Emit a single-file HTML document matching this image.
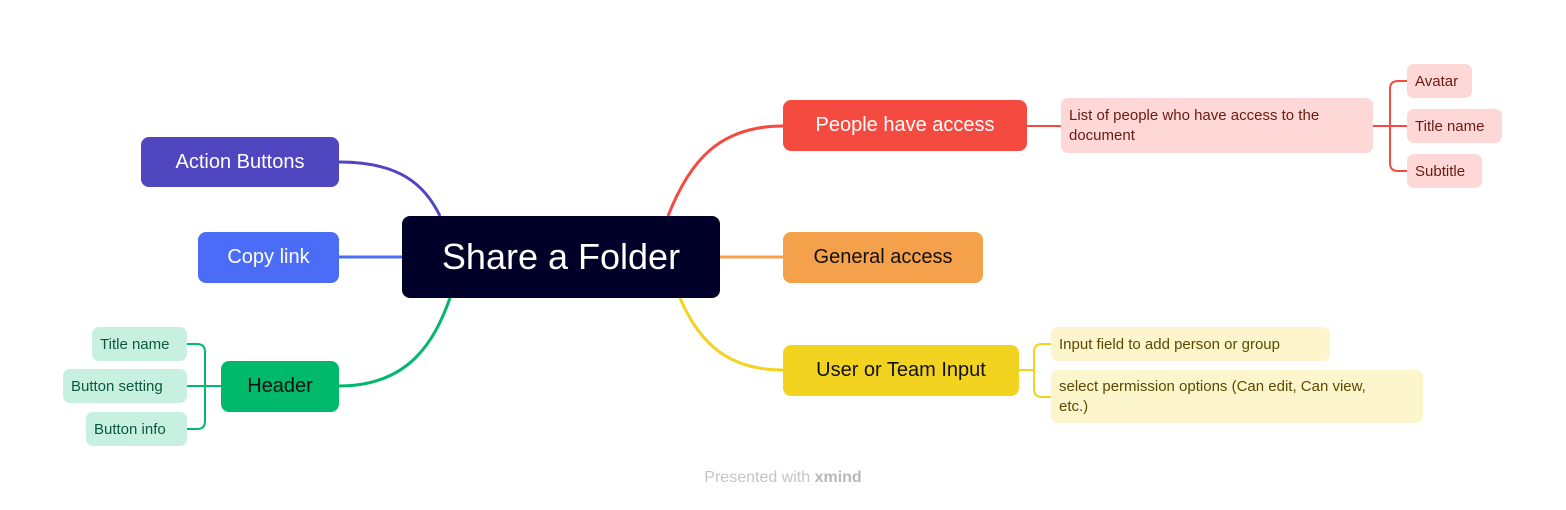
<!DOCTYPE html>
<html><head><meta charset="utf-8"><style>
body{margin:0;width:1566px;height:510px;background:#fff;position:relative;overflow:hidden;font-family:"Liberation Sans",sans-serif}
.n{position:absolute;box-sizing:border-box;display:flex;align-items:center;border-radius:8px;white-space:nowrap}
.b{font-size:20px;justify-content:center}
.s{font-size:15px;padding-left:8px;border-radius:7px}
</style></head><body>
<svg width="1566" height="510" style="position:absolute;left:0;top:0" fill="none" stroke-width="3">
<path d="M339 162 C400 162 425 185 440 216" stroke="#4f46c0"/>
<path d="M339 257 L402 257" stroke="#4a6cf7"/>
<path d="M339 386 C410 386 435 340 450 298" stroke="#00b96b"/>
<path d="M668 216 C690 160 720 126 783 126" stroke="#f54a3f"/>
<path d="M720 257 L783 257" stroke="#f5a04a"/>
<path d="M680 298 C700 345 730 370 783 370" stroke="#f2d31f"/>
<g stroke-width="2">
<path d="M1027 126 L1061 126" stroke="#f54a3f"/>
<path d="M1373 126 L1390 126 M1407 81 L1398 81 Q1390 81 1390 89 L1390 163 Q1390 171 1398 171 L1407 171 M1390 126 L1407 126" stroke="#f54a3f"/>
<path d="M1019 370 L1034 370 M1051 344 L1042 344 Q1034 344 1034 352 L1034 389 Q1034 397 1042 397 L1051 397" stroke="#f2d31f"/>
<path d="M221 386 L205 386 M187 344 L197 344 Q205 344 205 352 L205 421 Q205 429 197 429 L187 429 M187 386 L205 386" stroke="#00b96b"/>
</g></svg>
<div class="n" style="left:402px;top:216px;width:318px;height:82px;background:#000028;color:#fff;font-size:36px;justify-content:center">Share a Folder</div>
<div class="n b" style="left:141px;top:137px;width:198px;height:50px;background:#4f46c0;color:#fff">Action Buttons</div>
<div class="n b" style="left:198px;top:232px;width:141px;height:51px;background:#4a6cf7;color:#fff">Copy link</div>
<div class="n b" style="left:221px;top:361px;width:118px;height:51px;background:#00b96b;color:#111">Header</div>
<div class="n s" style="left:92px;top:327px;width:95px;height:34px;background:#c8f0e0;color:#0a5a3a">Title name</div>
<div class="n s" style="left:63px;top:369px;width:124px;height:34px;background:#c8f0e0;color:#0a5a3a">Button setting</div>
<div class="n s" style="left:86px;top:412px;width:101px;height:34px;background:#c8f0e0;color:#0a5a3a">Button info</div>
<div class="n b" style="left:783px;top:100px;width:244px;height:51px;background:#f54a3f;color:#fff">People have access</div>
<div class="n s" style="left:1061px;top:98px;width:312px;height:55px;background:#fdd8d6;color:#6a1a14;white-space:normal;line-height:20px;padding-right:8px">List of people who have access to the document</div>
<div class="n s" style="left:1407px;top:64px;width:65px;height:34px;background:#fdd8d6;color:#6a1a14">Avatar</div>
<div class="n s" style="left:1407px;top:109px;width:95px;height:34px;background:#fdd8d6;color:#6a1a14">Title name</div>
<div class="n s" style="left:1407px;top:154px;width:75px;height:34px;background:#fdd8d6;color:#6a1a14">Subtitle</div>
<div class="n b" style="left:783px;top:232px;width:200px;height:51px;background:#f5a04a;color:#111">General access</div>
<div class="n b" style="left:783px;top:345px;width:236px;height:51px;background:#f2d31f;color:#111">User or Team Input</div>
<div class="n s" style="left:1051px;top:327px;width:279px;height:34px;background:#fdf5cc;color:#5a4a00">Input field to add person or group</div>
<div class="n s" style="left:1051px;top:370px;width:372px;height:53px;background:#fdf5cc;color:#5a4a00;line-height:20px">select permission options (Can edit, Can view,<br>etc.)</div>
<div style="position:absolute;left:0;width:1566px;top:469px;text-align:center;color:#c4c4c4;font-size:16px">Presented with <b style="color:#b8b8b8">xmind</b></div>
</body></html>
